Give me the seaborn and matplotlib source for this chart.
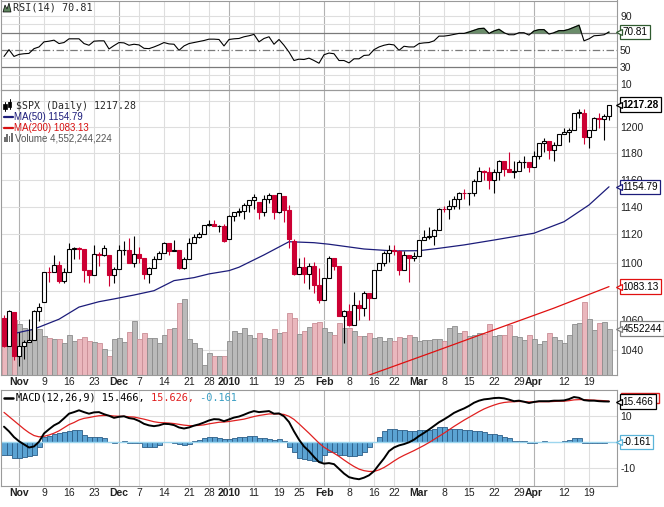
import numpy as np
import matplotlib
matplotlib.use("Agg")
import matplotlib.pyplot as plt
import matplotlib.transforms as mtransforms
from matplotlib.lines import Line2D
from matplotlib.patches import Rectangle, Polygon
from matplotlib.ticker import NullLocator, NullFormatter
import seaborn as sns

# ------------------------------------------------------------
# $SPX daily, 28 Oct 2009 .. 23 Apr 2010 (one entry per trading day)
# ------------------------------------------------------------
open_ = [1061.5, 1042.63, 1065.4, 1036.19, 1042.88, 1045.41, 1046.50, 1066.63, 1072.3, 1093.08,
         1093.01, 1098.51, 1087.24, 1093.48, 1109.30, 1110.32, 1109.80, 1094.90, 1091.38, 1106.24,
         1105.65, 1105.5, 1091.49, 1095.63, 1108.86, 1109.24, 1099.92, 1105.98, 1103.25, 1091.94,
         1095.95, 1102.35, 1106.41, 1114.11, 1107.93, 1109.18, 1096.08, 1102.47, 1114.05, 1118.02,
         1120.59, 1126.48, 1127.78, 1126.20, 1126.42, 1116.6, 1132.99, 1136.52, 1137.14, 1141.69,
         1144.98, 1143.8, 1136.22, 1145.68, 1148.46, 1136.03, 1147.9, 1138.04, 1115.5, 1091.76,
         1096.78, 1092.17, 1097.50, 1084.53, 1073.87, 1089.19, 1103.32, 1097.28, 1063.11, 1066.19,
         1056.74, 1070.52, 1068.13, 1078.47, 1075.51, 1094.87, 1099.51, 1106.75, 1109.17, 1108.01,
         1094.60, 1105.24, 1102.94, 1104.49, 1115.71, 1118.31, 1118.79, 1122.97, 1138.70, 1138.50,
         1140.45, 1145.61, 1150.24, 1149.99, 1150.51, 1159.46, 1166.21, 1165.83, 1159.90, 1165.81,
         1174.17, 1167.72, 1165.73, 1166.59, 1173.22, 1173.27, 1169.43, 1178.10, 1187.44, 1189.44,
         1182.45, 1186.44, 1194.37, 1196.48, 1197.30, 1210.65, 1210.8, 1192.13, 1197.52, 1207.17,
         1205.94, 1208.67]
high = [1063.3, 1066.8, 1065.4, 1052.2, 1046.4, 1061.0, 1066.7, 1071.5, 1093.2, 1096.6,
        1105.4, 1101.3, 1096.4, 1113.7, 1110.9, 1111.1, 1109.8, 1094.9, 1112.4, 1107.6,
        1112.4, 1105.5, 1097.2, 1112.3, 1115.1, 1117.3, 1119.1, 1110.7, 1103.3, 1096.9,
        1104.6, 1108.4, 1114.8, 1114.1, 1116.2, 1109.2, 1103.7, 1117.7, 1120.3, 1121.6,
        1126.5, 1130.4, 1130.4, 1126.5, 1127.8, 1133.9, 1136.6, 1139.2, 1142.5, 1145.4,
        1149.7, 1143.9, 1148.4, 1150.4, 1148.5, 1150.4, 1147.9, 1141.6, 1116.5, 1102.9,
        1103.7, 1099.6, 1100.1, 1096.5, 1089.4, 1104.7, 1103.4, 1097.3, 1067.1, 1071.2,
        1079.3, 1073.7, 1080.0, 1078.5, 1095.0, 1100.0, 1108.2, 1112.4, 1112.3, 1108.6,
        1108.4, 1105.3, 1107.8, 1116.1, 1123.5, 1125.6, 1123.7, 1139.4, 1141.0, 1145.4,
        1148.3, 1150.6, 1153.4, 1150.5, 1160.3, 1169.8, 1167.0, 1169.2, 1167.8, 1174.7,
        1174.2, 1180.7, 1173.9, 1174.9, 1177.8, 1173.3, 1181.4, 1187.7, 1191.8, 1189.6,
        1188.7, 1194.7, 1199.2, 1199.1, 1210.7, 1213.9, 1213.9, 1197.9, 1207.9, 1211.0,
        1210.3, 1217.3]
low = [1042.2, 1042.6, 1033.4, 1029.4, 1033.9, 1045.2, 1046.5, 1059.3, 1072.3, 1086.0,
       1093.0, 1085.7, 1085.7, 1093.5, 1102.2, 1102.2, 1086.1, 1085.8, 1091.4, 1097.6,
       1104.8, 1083.7, 1085.5, 1095.6, 1105.4, 1099.9, 1096.7, 1100.0, 1088.6, 1085.9,
       1095.9, 1102.3, 1106.4, 1105.3, 1107.9, 1095.4, 1095.4, 1102.4, 1114.0, 1117.3,
       1120.5, 1126.4, 1126.1, 1121.6, 1114.8, 1116.6, 1129.4, 1133.7, 1131.3, 1136.2,
       1138.3, 1131.4, 1133.2, 1142.8, 1131.4, 1135.7, 1129.3, 1110.2, 1091.3, 1091.8,
       1085.9, 1081.5, 1078.5, 1071.6, 1073.9, 1089.2, 1094.9, 1063.0, 1044.5, 1055.8,
       1056.7, 1060.0, 1062.6, 1060.1, 1075.5, 1094.8, 1097.3, 1100.1, 1105.4, 1091.0,
       1094.6, 1086.0, 1101.0, 1104.6, 1115.7, 1116.4, 1112.6, 1122.9, 1136.1, 1131.5,
       1138.6, 1138.8, 1146.1, 1141.5, 1148.3, 1159.4, 1159.5, 1152.8, 1150.0, 1159.9,
       1163.1, 1165.5, 1161.5, 1166.6, 1168.8, 1165.6, 1169.4, 1175.9, 1180.9, 1175.8,
       1173.8, 1186.4, 1194.3, 1188.2, 1197.3, 1206.9, 1186.8, 1183.7, 1197.5, 1198.9,
       1190.2, 1205.1]
close = [1042.63, 1066.11, 1036.19, 1042.88, 1045.41, 1046.50, 1066.63, 1069.30, 1093.08, 1093.01,
         1098.51, 1087.24, 1093.48, 1109.30, 1110.32, 1109.80, 1094.90, 1091.38, 1106.24, 1105.65,
         1110.63, 1091.49, 1095.63, 1108.86, 1109.24, 1099.92, 1105.98, 1103.25, 1091.94, 1095.95,
         1102.35, 1106.41, 1114.11, 1107.93, 1109.18, 1096.08, 1102.47, 1114.05, 1118.02, 1120.59,
         1126.48, 1127.78, 1126.20, 1126.42, 1115.10, 1132.99, 1136.52, 1137.14, 1141.69, 1144.98,
         1146.98, 1136.22, 1145.68, 1148.46, 1136.03, 1150.23, 1138.04, 1116.48, 1091.76, 1096.78,
         1092.17, 1097.50, 1084.53, 1073.87, 1089.19, 1103.32, 1097.28, 1063.11, 1066.19, 1056.74,
         1070.52, 1068.13, 1078.47, 1075.51, 1094.87, 1099.51, 1106.75, 1109.17, 1108.01, 1094.60,
         1105.24, 1102.94, 1104.49, 1115.71, 1118.31, 1118.79, 1122.97, 1138.70, 1138.50, 1140.45,
         1145.61, 1150.24, 1149.99, 1150.51, 1159.46, 1166.21, 1165.83, 1159.90, 1165.81, 1174.17,
         1167.72, 1165.73, 1166.59, 1173.22, 1173.27, 1169.43, 1178.10, 1187.44, 1189.44, 1182.45,
         1186.44, 1194.37, 1196.48, 1197.30, 1210.65, 1211.67, 1192.13, 1197.52, 1207.17, 1205.94,
         1208.67, 1217.28]
prev_close_first = 1063.41  # 27 Oct 2009, only used for colouring the first candle

# volume in billions of shares
volume_bn = [5.4, 5.3, 5.4, 5.0, 4.6, 4.4, 4.4, 4.5, 3.8, 3.6,
             3.5, 3.5, 3.1, 3.9, 3.3, 3.5, 3.7, 3.3, 3.2, 3.1,
             2.5, 1.9, 3.5, 3.6, 3.2, 4.2, 5.3, 3.5, 4.1, 3.6,
             3.6, 3.1, 3.9, 4.5, 4.6, 7.0, 7.4, 3.5, 3.1, 2.6,
             1.0, 2.2, 1.9, 1.9, 1.9, 3.3, 4.3, 4.1, 4.6, 3.9,
             3.6, 4.1, 3.6, 3.5, 4.5, 4.1, 4.2, 6.1, 5.6, 4.0,
             4.3, 4.7, 5.1, 5.2, 4.6, 4.2, 3.9, 5.1, 4.6, 4.6,
             4.3, 3.8, 3.8, 4.1, 3.6, 3.7, 3.3, 3.6, 3.3, 3.7,
             3.6, 3.9, 3.7, 3.3, 3.4, 3.4, 3.5, 3.5, 3.3, 4.6,
             4.8, 4.1, 4.35, 3.8, 3.96, 4.1, 4.0, 5.0, 3.8, 3.96,
             3.9, 4.9, 3.8, 3.7, 3.4, 3.9, 3.5, 3.0, 3.3, 4.1,
             3.7, 3.4, 3.1, 3.96, 4.95, 5.1, 7.1, 5.5, 4.45, 5.05,
             5.2, 4.552]

rsi14 = [42, 50, 42, 44.4, 45.2, 45.6, 51.2, 53.2, 59.2, 60,
         61.2, 57.2, 58.4, 62.8, 62.8, 62.8, 57.2, 55.2, 60, 60.4,
         60.4, 50.8, 54.8, 58.4, 58, 55.2, 56.4, 55.6, 51.6, 51.2,
         53.2, 55.6, 58.4, 56.8, 56.4, 49.2, 54.4, 57.2, 58.4, 59.6,
         60.8, 62.4, 62.4, 62, 54.4, 62, 62.8, 63.2, 65.2, 66.4,
         68, 59.2, 63.2, 65.2, 56.4, 62, 55.2, 47.2, 37.2, 38.8,
         38.4, 40, 37.2, 34, 44, 46, 45.2, 37.2, 37.2, 34.4,
         39.2, 39.2, 43.2, 43.6, 50, 53.2, 55.2, 56.4, 55.6, 49.2,
         54, 53.2, 53.2, 57.2, 58, 58.4, 60.4, 66, 66, 66.8,
         68, 69.2, 69.2, 70.8, 72.8, 74.8, 75.2, 69.2, 72, 74,
         70, 67.6, 67.6, 70, 70, 67.2, 72, 73.6, 73.6, 68.4,
         70, 72.4, 72.4, 74, 76.4, 78.8, 60.4, 62.8, 66.4, 66.8,
         67.6, 70.81]

macd_line = [5.8, 4.0, 1.8, 0.2, -1.0, -2.2, -1.8, 0.0, 3.2, 4.8,
             6.3, 7.3, 9.0, 10.8, 11.4, 12.1, 11.4, 10.8, 11.3, 11.4,
             10.6, 10.0, 9.2, 9.6, 9.8, 9.1, 8.8, 8.0, 6.9, 6.3,
             6.0, 6.3, 6.9, 6.8, 6.4, 5.5, 5.1, 5.5, 6.2, 6.7,
             7.4, 8.2, 8.7, 8.6, 7.9, 8.6, 9.3, 9.7, 10.4, 11.2,
             11.8, 11.4, 11.6, 11.8, 10.8, 10.9, 9.8, 7.6, 4.0, 0.8,
             -1.8, -3.6, -5.8, -7.8, -8.4, -8.2, -8.6, -10.4, -12.2, -13.6,
             -14.1, -14.4, -13.8, -12.9, -11.3, -8.8, -6.4, -3.6, -2.2, -1.4,
             -0.9, -0.2, 0.8, 2.2, 3.4, 4.7, 6.1, 7.5, 8.6, 9.8,
             11.1, 12.0, 12.8, 13.8, 15.0, 15.8, 16.3, 16.5, 16.8, 16.9,
             16.7, 16.2, 15.6, 15.8, 15.4, 14.9, 15.3, 15.6, 15.6, 15.6,
             15.8, 15.8, 15.9, 16.4, 17.2, 16.9, 16.0, 15.8, 15.8, 15.6,
             15.5, 15.466]
signal_line = [11.3, 9.7, 8.1, 6.5, 4.9, 3.5, 2.4, 1.9, 2.1, 2.6,
               3.3, 4.2, 5.4, 6.6, 7.4, 8.4, 9.0, 9.3, 9.7, 10.0,
               10.1, 10.1, 9.9, 9.8, 9.8, 9.6, 9.5, 9.1, 8.7, 8.2,
               7.7, 7.4, 7.3, 7.2, 7.0, 6.7, 6.4, 6.2, 6.2, 6.3,
               6.5, 6.9, 7.2, 7.5, 7.6, 7.8, 8.1, 8.4, 8.7, 9.2,
               9.7, 10.1, 10.4, 10.7, 10.7, 10.7, 10.5, 9.8, 8.6, 6.9,
               5.1, 3.3, 1.4, -0.5, -2.1, -3.3, -4.4, -5.6, -7.0, -8.3,
               -9.5, -10.5, -11.1, -11.4, -11.4, -10.8, -9.9, -8.7, -7.4, -6.2,
               -5.2, -4.3, -3.4, -2.4, -1.4, -0.3, 0.9, 2.1, 3.3, 4.6,
               5.9, 7.1, 8.3, 9.4, 10.5, 11.6, 12.6, 13.4, 14.1, 14.7,
               15.1, 15.3, 15.4, 15.5, 15.4, 15.3, 15.3, 15.4, 15.4, 15.4,
               15.5, 15.6, 15.6, 15.8, 16.1, 16.2, 16.2, 16.1, 16.0, 15.9,
               15.8, 15.626]
macd_hist = [-4.9, -5.1, -6.2, -6.2, -5.9, -5.5, -4.9, -1.9, 1.9, 2.3,
             2.8, 3.2, 3.8, 4.2, 4.5, 4.5, 2.6, 1.9, 1.7, 1.7,
             1.5, 0.0, -0.4, 0.0, 0.4, -0.3, -0.3, -0.3, -1.9, -1.9,
             -1.9, -1.3, 0.0, 0.0, -0.4, -1.0, -1.3, -0.8, 0.3, 0.6,
             1.3, 1.7, 1.7, 1.3, 0.9, 1.0, 1.5, 1.7, 1.9, 2.1,
             2.1, 1.5, 1.3, 1.0, 0.5, 0.9, 0.3, -1.9, -4.1, -6.2,
             -6.8, -7.1, -7.3, -7.3, -5.1, -4.1, -4.1, -4.9, -4.9, -5.5,
             -5.5, -4.9, -3.8, -1.9, 0.0, 1.9, 4.1, 5.1, 5.1, 4.7,
             4.4, 4.1, 4.1, 4.6, 4.7, 4.7, 5.1, 5.5, 5.5, 5.1,
             5.1, 5.1, 4.7, 4.5, 4.2, 4.1, 3.6, 3.1, 2.8, 2.6,
             1.9, 1.3, 0.4, 0.3, 0.3, -0.3, -0.3, 0.0, 0.3, 0.0,
             0.0, 0.0, 0.3, 0.5, 1.3, 1.3, -0.3, -0.3, -0.4, -0.4,
             -0.3, -0.161]

# moving averages at a few trading-day positions
ma50_day = [0, 6, 11, 15, 19, 22, 26, 30, 34, 38, 41, 45, 47, 52, 57, 62, 65,
            72, 78, 83, 87, 92, 98, 106, 112, 117, 121]
ma50 = [1049.5, 1054.0, 1060.7, 1069.0, 1072.7, 1074.6, 1077.3, 1080.3, 1087.3, 1089.4,
        1092.0, 1094.3, 1096.7, 1105.4, 1114.8, 1114.1, 1113.0, 1109.6, 1108.2, 1108.4,
        1110.1, 1112.5, 1116.0, 1120.9, 1129.2, 1141.4, 1154.79]
ma200_day = [73, 86, 98, 110, 121]
ma200 = [1023.3, 1038.8, 1053.5, 1068.3, 1083.13]

tick_day = [3, 8, 13, 18, 23, 27, 32, 37, 41, 45, 50, 55, 59, 64, 69, 74, 78,
            83, 88, 93, 98, 103, 106, 112, 117]
tick_text = ["Nov", "9", "16", "23", "Dec", "7", "14", "21", "28", "2010", "11", "19", "25",
             "Feb", "8", "16", "22", "Mar", "8", "15", "22", "29", "Apr", "12", "19"]
month_labels = ["Nov", "Dec", "2010", "Feb", "Mar", "Apr"]

price_ticks = [1040, 1060, 1080, 1100, 1120, 1140, 1160, 1180, 1200, 1220]
price_labels = ["1040", "1060", "1080", "1100", "1120", "1140", "1160", "1180", "1200", ""]
rsi_ticks = [10, 30, 50, 90]
macd_ticks = [-10, 10]

# ------------------------------------------------------------
sns.set_style("white")
plt.rcParams["font.family"] = ["Liberation Sans", "DejaVu Sans"]

RED = "#cc0033"
GRID = "#dedede"
GRID_MONTH = "#b2b2b2"
SPINE = "#9a9a9a"

W, H = 664, 507
fig = plt.figure(figsize=(W / 100, H / 100), dpi=100)


def px_rect(x0, y0, x1, y1):
    return [x0 / W, 1 - y1 / H, (x1 - x0) / W, (y1 - y0) / H]


ax_rsi = fig.add_axes(px_rect(1, 0.5, 617, 89.5))
ax = fig.add_axes(px_rect(1, 89.5, 617, 375))
ax_vol = ax.twinx()
ax_macd = fig.add_axes(px_rect(1, 390, 617, 486))

ax.set_zorder(2)
ax_vol.set_zorder(1)
ax.patch.set_visible(False)

day = np.arange(len(close))
o = np.array(open_)
c = np.array(close)
prev = np.concatenate([[prev_close_first], c[:-1]])
up_day = c >= prev
edge = np.where(up_day, "black", RED)
fill = np.where(c > o, "white", edge)

XMIN, XMAX = -0.6, 122.6

# ---------------- grid ----------------
month_col = [GRID_MONTH if t in month_labels else GRID for t in tick_text]
for a in (ax_rsi, ax_vol, ax_macd):
    for d, col in zip(tick_day, month_col):
        a.axvline(d, color=col, lw=0.8, zorder=0.5)

price_tr = mtransforms.blended_transform_factory(ax_vol.transAxes, ax.transData)
for p in price_ticks:
    ax_vol.add_line(Line2D([0, 1], [p, p], transform=price_tr, color=GRID, lw=0.8, zorder=0.6))

# ---------------- main panel ----------------
vol_face = np.where(up_day, "#bababa", "#eab7bd")
vol_edge = np.where(up_day, "#8c8c8c", "#c98e96")
ax_vol.bar(day, volume_bn, width=1.0, color=vol_face, edgecolor=vol_edge, lw=0.6, zorder=1)

ax.set_yscale("log")
sns.lineplot(x=ma50_day, y=ma50, ax=ax, color="#1c1c7a", lw=0.9, zorder=2)
sns.lineplot(x=ma200_day, y=ma200, ax=ax, color="#e01010", lw=0.9, zorder=2)

ax.vlines(day, low, high, colors=edge, lw=0.8, zorder=3)
ax.bar(day, np.abs(c - o), bottom=np.minimum(o, c), width=0.72,
       color=fill, edgecolor=edge, lw=0.8, zorder=4)

# ---------------- RSI ----------------
rsi_arr = np.array(rsi14)
for lvl in (10, 20, 40, 60, 80, 90):
    ax_rsi.axhline(lvl, color=GRID, lw=0.8, zorder=0.6)
ax_rsi.axhline(70, color="#7a7a7a", lw=0.9, zorder=1)
ax_rsi.axhline(30, color="#7a7a7a", lw=0.9, zorder=1)
ax_rsi.axhline(50, color="#7a7a7a", lw=0.9, ls=(0, (6, 2, 1, 2)), zorder=1)
ax_rsi.fill_between(day, rsi_arr, 70, where=rsi_arr > 70, interpolate=True,
                    color="#6a8c6a", zorder=2)
sns.lineplot(x=day, y=rsi14, ax=ax_rsi, color="black", lw=0.8, zorder=3)

# ---------------- MACD ----------------
for lvl in (-10, 10):
    ax_macd.axhline(lvl, color=GRID, lw=0.8, zorder=0.6)
ax_macd.bar(day, macd_hist, width=1.0, color="#5ba3d3", edgecolor="#2c5e88", lw=0.6, zorder=1)
ax_macd.axhline(0, color="#9dd6ee", lw=1.0, zorder=1.5)
sns.lineplot(x=day, y=signal_line, ax=ax_macd, color="#e02020", lw=0.9, zorder=2)
sns.lineplot(x=day, y=macd_line, ax=ax_macd, color="black", lw=1.4, zorder=3)

# ---------------- axes cosmetics ----------------
for a in (ax_rsi, ax, ax_macd):
    a.set_xlim(XMIN, XMAX)
    a.set_xlabel("")
    a.set_ylabel("")
    for s in a.spines.values():
        s.set_color(SPINE)
        s.set_linewidth(0.8)
    a.yaxis.set_ticks_position("right")
    a.tick_params(axis="y", length=0, pad=2.2, labelsize=7.5, labelcolor="#222222")
    a.set_xticks(tick_day)
for s in ax_vol.spines.values():
    s.set_visible(False)
ax_vol.set_yticks([])
ax_vol.set_ylabel("")

ax_rsi.tick_params(axis="x", length=0, labelbottom=False)
for a in (ax, ax_macd):
    a.set_xticklabels(tick_text)
    a.tick_params(axis="x", length=0, pad=1.5, labelsize=7.5, labelcolor="#222222")
    for lbl in a.get_xticklabels():
        if lbl.get_text() in month_labels:
            lbl.set_fontweight("bold")

ax.yaxis.set_minor_locator(NullLocator())
ax.yaxis.set_minor_formatter(NullFormatter())
ax.set_yticks(price_ticks)
ax.set_yticklabels(price_labels)
ax_rsi.set_yticks(rsi_ticks)
ax_rsi.set_yticklabels([str(v) for v in rsi_ticks])
ax_macd.set_yticks(macd_ticks)
ax_macd.set_yticklabels([str(v) for v in macd_ticks])


def value_tag(axis, ytrans, yval, text, ec, weight="normal", dy=0, z=10):
    tr = mtransforms.blended_transform_factory(axis.transAxes, ytrans)
    t_tr = mtransforms.offset_copy(tr, fig=fig, x=5.5, y=dy, units="dots")
    axis.text(1.0, yval, text, transform=t_tr, ha="left", va="center", fontsize=7.2,
              color="black", fontweight=weight,
              bbox=dict(boxstyle="square,pad=0.22", fc="white", ec=ec, lw=0.9),
              clip_on=False, zorder=z)
    m_tr = mtransforms.offset_copy(tr, fig=fig, x=2.4, y=dy, units="dots")
    axis.plot([1.0], [yval], marker="<", ms=4.5, mfc="white", mec=ec, mew=0.9,
              transform=m_tr, clip_on=False, zorder=z + 1)


value_tag(ax_rsi, ax_rsi.transData, rsi14[-1], "70.81", "#2f5a2f")
value_tag(ax, ax.transData, close[-1], "1217.28", "black", weight="bold")
value_tag(ax, ax.transData, ma50[-1], "1154.79", "#1c1c7a")
value_tag(ax, ax.transData, ma200[-1], "1083.13", "#e01010")
value_tag(ax, ax_vol.transData, volume_bn[-1], "4552244", "#808080")

# signal tag sits behind the MACD tag: only its red frame shows
sig_tr = mtransforms.offset_copy(
    mtransforms.blended_transform_factory(ax_macd.transAxes, ax_macd.transData),
    fig=fig, x=3.5, y=3, units="dots")
ax_macd.add_patch(Rectangle((1.0, signal_line[-1] - 1.8), 0.062, 3.6, transform=sig_tr,
                            fc="white", ec="#e02020", lw=1.0, clip_on=False, zorder=9))
value_tag(ax_macd, ax_macd.transData, macd_line[-1], "15.466", "black", z=12)
value_tag(ax_macd, ax_macd.transData, macd_hist[-1], "-0.161", "#5ab4d8")

ax_rsi.set_ylim(3, 108)
ax.set_ylim(1023.4, 1229.2)
ax_vol.set_ylim(0, 27.95)
ax_macd.set_ylim(-17, 19.9)

# ---------------- legends ----------------
def fx(x):
    return x / W


def fy(y):
    return 1 - y / H


MONO = ["DejaVu Sans Mono"]

# RSI
fig.add_artist(Polygon([(fx(3), fy(12)), (fx(5), fy(5)), (fx(7), fy(9)), (fx(9), fy(3)),
                        (fx(11), fy(12))], closed=True, transform=fig.transFigure,
                       fc="#5f855f", ec="black", lw=0.5))
fig.text(fx(12.5), fy(8), "RSI(14) 70.81", family=MONO, fontsize=7.3, va="center", ha="left")

# price legend
for xx, y0, y1 in ((5, 104, 109), (9.5, 101, 107)):
    fig.add_artist(Line2D([fx(xx), fx(xx)], [fy(y1 + 2), fy(y0 - 2)],
                          transform=fig.transFigure, color="black", lw=0.7))
    fig.add_artist(Rectangle((fx(xx - 1.5), fy(y1)), 3 / W, (y1 - y0) / H,
                             transform=fig.transFigure, fc="black", ec="black", lw=0.5))
fig.text(fx(16), fy(105.5), "\\$SPX (Daily) 1217.28", family=MONO, fontsize=7.1,
         va="center", ha="left")

for yy, col, txt in ((116.5, "#1c1c7a", "MA(50) 1154.79"), (127.5, "#d81010", "MA(200) 1083.13")):
    fig.add_artist(Line2D([fx(4), fx(13)], [fy(yy), fy(yy)], transform=fig.transFigure,
                          color=col, lw=1.6))
    fig.text(fx(14), fy(yy), txt, fontsize=7, color=col, va="center", ha="left")

for k, hh in enumerate((5, 8, 6, 9)):
    fig.add_artist(Rectangle((fx(4 + 2.4 * k), fy(142)), 1.6 / W, hh / H,
                             transform=fig.transFigure, fc="#707070", ec="none"))
fig.text(fx(15), fy(138), "Volume 4,552,244,224", fontsize=7, color="#555555",
         va="center", ha="left")

# MACD legend
fig.add_artist(Line2D([fx(4), fx(13)], [fy(398), fy(398)], transform=fig.transFigure,
                      color="black", lw=1.8))
renderer = fig.canvas.get_renderer()
xpos = 16.0
for txt, col in (("MACD(12,26,9) 15.466,", "black"), (" 15.626,", "#e02020"),
                 (" -0.161", "#3a9fc4")):
    t = fig.text(fx(xpos), fy(398), txt, family=MONO, fontsize=7.4, color=col,
                 va="center", ha="left")
    xpos += t.get_window_extent(renderer=renderer).width

fig.savefig("out.png", dpi=100, facecolor="white")
